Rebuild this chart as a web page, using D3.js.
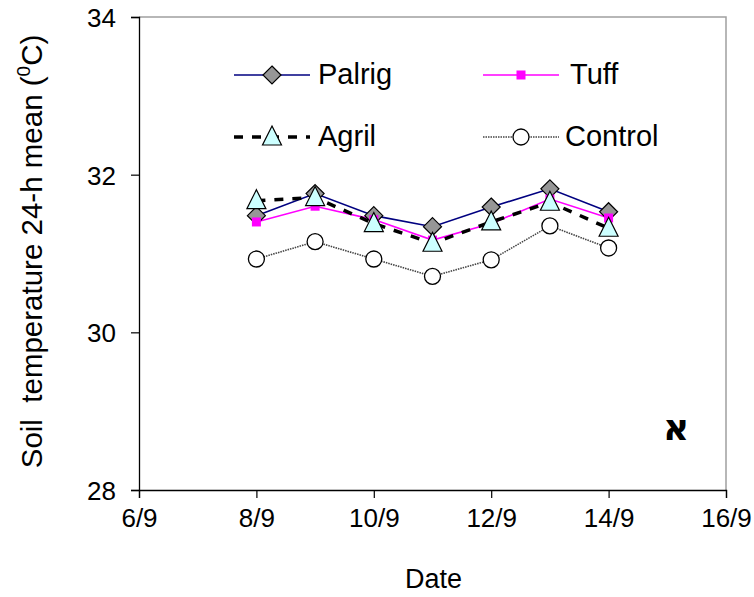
<!DOCTYPE html>
<html>
<head>
<meta charset="utf-8">
<script src="https://cdn.jsdelivr.net/npm/d3@7"></script>
<style>
body{margin:0;background:#fff;}
text{font-family:"Liberation Sans",Arial,sans-serif;}
</style>
</head>
<body>
<div class="plot"></div>
<script>
// days of September
const days = [8, 9, 10, 11, 12, 13, 14];
const palrig  = [31.48, 31.76, 31.48, 31.34, 31.59, 31.82, 31.53];
const tuff    = [31.40, 31.60, 31.43, 31.17, 31.38, 31.69, 31.45];
const agril   = [31.67, 31.71, 31.38, 31.13, 31.40, 31.65, 31.32];
const control = [30.93, 31.15, 30.93, 30.71, 30.92, 31.35, 31.07];
const xTicks = [6, 8, 10, 12, 14, 16];
const yTicks = [28, 30, 32, 34];

const w = 754, h = 597;
const m = {left:139, right:28, top:17, bottom:107};

const svg = d3.select('.plot').append('svg')
	.attr('width', w)
	.attr('height', h);

const x = d3.scaleLinear().domain([6, 16]).range([m.left, w - m.right]);
const y = d3.scaleLinear().domain([28, 34]).range([h - m.bottom, m.top]);

//frame: top and right in grey
svg.append('path')
	.attr('d', `M${x(6)},${y(34)}H${x(16)}V${y(28)}`)
	.style('fill', 'none').style('stroke', '#a0a0a0').style('stroke-width', 1.5);

//axes
const xAxis = svg.append('g')
	.attr('transform', `translate(0,${y(28)})`)
	.call(d3.axisBottom(x).tickValues(xTicks).tickSizeOuter(0).tickSize(8).tickFormat(d => d + '/9'));
const yAxis = svg.append('g')
	.attr('transform', `translate(${x(6)},0)`)
	.call(d3.axisLeft(y).tickValues(yTicks).tickSizeOuter(0).tickSize(8).tickFormat(d3.format('d')));
[xAxis, yAxis].forEach(a => {
	a.attr('font-size', null).attr('font-family', null);
	a.select('.domain').style('stroke', '#000').style('stroke-width', 1.3);
	a.selectAll('.tick line').style('stroke', '#000').style('stroke-width', 1.2);
	a.selectAll('.tick text').style('font-size', '26px').style('fill', '#000');
});
xAxis.selectAll('.tick text').attr('dy', null).attr('y', 37);
yAxis.selectAll('.tick text').attr('x', -23).attr('dy', '0.36em');

//axis titles
svg.append('text')
	.attr('x', (x(6) + x(16)) / 2 + 1).attr('y', 588)
	.attr('text-anchor', 'middle')
	.style('font-size', '27px')
	.text('Date');
const yt = svg.append('text')
	.attr('transform', `translate(42,${(y(28) + y(34)) / 2 - 2}) rotate(-90)`)
	.attr('text-anchor', 'middle')
	.style('font-size', '29.5px')
	.style('white-space', 'pre');
yt.append('tspan').text('Soil  temperature 24-h mean (');
yt.append('tspan').attr('dy', -12).style('font-size', '19px').text('0');
yt.append('tspan').attr('dy', 12).text('C)');

//markers
function diamond(g, cx, cy){
	g.append('path')
		.attr('d', `M${cx},${cy - 9}L${cx + 9},${cy}L${cx},${cy + 9}L${cx - 9},${cy}Z`)
		.style('fill', '#969696').style('stroke', '#000').style('stroke-width', 1.2);
}
function square(g, cx, cy){
	g.append('rect')
		.attr('x', cx - 4.5).attr('y', cy - 4.5).attr('width', 9).attr('height', 9)
		.style('fill', '#ff00ff');
}
function triangle(g, cx, cy){
	g.append('path')
		.attr('d', `M${cx},${cy - 11}L${cx + 9.5},${cy + 8}L${cx - 9.5},${cy + 8}Z`)
		.style('fill', '#ccffff').style('stroke', '#000').style('stroke-width', 1.2);
}
function circle(g, cx, cy){
	g.append('circle')
		.attr('cx', cx).attr('cy', cy).attr('r', 8)
		.style('fill', '#fff').style('stroke', '#000').style('stroke-width', 1.3);
}

const series = [
	{name:'Control', values:control, stroke:'#444', width:1.6, dash:'1.5,1', marker:circle},
	{name:'Palrig', values:palrig, stroke:'#000080', width:1.6, dash:null, marker:diamond},
	{name:'Tuff', values:tuff, stroke:'#ff00ff', width:1.6, dash:null, marker:square},
	{name:'Agril', values:agril, stroke:'#000', width:3.5, dash:'9,9', marker:triangle}
];

const line = d3.line()
	.x((d, i) => x(days[i]))
	.y(d => y(d));

series.forEach(s => {
	svg.append('path').datum(s.values)
		.attr('d', line)
		.style('fill', 'none')
		.style('stroke', s.stroke)
		.style('stroke-width', s.width)
		.style('stroke-dasharray', s.dash);
});
series.forEach(s => {
	const g = svg.append('g');
	s.values.forEach((v, i) => s.marker(g, x(days[i]), y(v)));
});

//legend
const legend = [
	{s:series[1], lx:234, ly:75, tx:318},
	{s:series[2], lx:483, ly:75, tx:570},
	{s:series[3], lx:234, ly:137, tx:318},
	{s:series[0], lx:483, ly:137, tx:565}
];
legend.forEach(l => {
	const g = svg.append('g');
	g.append('line')
		.attr('x1', l.lx).attr('x2', l.lx + 76)
		.attr('y1', l.ly).attr('y2', l.ly)
		.style('stroke', l.s.stroke)
		.style('stroke-width', l.s.width)
		.style('stroke-dasharray', l.s.dash);
	l.s.marker(g, l.lx + 38, l.ly);
	g.append('text')
		.attr('x', l.tx).attr('y', l.ly + 9)
		.style('font-size', '29px')
		.text(l.s.name);
});

//panel letter
svg.append('text')
	.attr('x', 676).attr('y', 440)
	.attr('text-anchor', 'middle')
	.style('font-size', '36px').style('font-weight', 'bold')
	.style('font-family', '"DejaVu Sans",sans-serif')
	.text('א');
</script>
</body>
</html>
